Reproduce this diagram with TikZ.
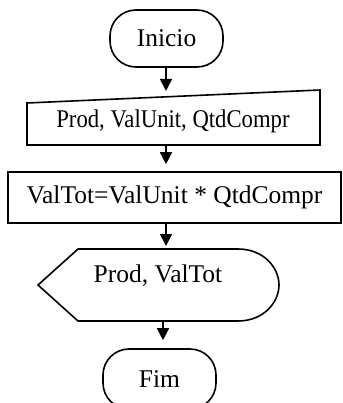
\documentclass[tikz,border=0pt]{standalone}
\usepackage{fontspec}
\setmainfont{Liberation Serif}
\usetikzlibrary{arrows.meta}
\begin{document}
\begin{tikzpicture}[x=1pt,y=-1pt,
  line width=1.6pt,
  every node/.style={font=\fontsize{25.5}{30}\selectfont, inner sep=0pt},
  term/.style={draw, rectangle, rounded corners=26pt, minimum width=113pt, minimum height=57pt},
  procbox/.style={draw, rectangle, minimum width=333pt, minimum height=51pt},
  arr/.style={-{Triangle[length=12pt,width=12pt]}, line width=1.5pt}]
\useasboundingbox (0,0) rectangle (342,403);

% start terminator
\node[term] (ini) at (166.5,38.5) {Inicio};

% manual input
\draw (27,103) -- (320,90) -- (320,145) -- (27,145) -- cycle;
\node (inp) at (173,121) {\scalebox{0.89}[1]{Prod, ValUnit, QtdCompr}};
\coordinate (inpT) at (166,91);
\coordinate (inpB) at (166,145);

% process
\node[procbox] (proc) at (174.5,197.5) {ValTot=ValUnit * QtdCompr};

% display
\draw (38,285) -- (78,249) -- (238,249)
  .. controls (264,249) and (279,268) .. (279,285)
  .. controls (279,302) and (264,321) .. (238,321)
  -- (78,321) -- cycle;
\node (disp) at (158,276) {Prod, ValTot};
\coordinate (dispT) at (166,246);
\coordinate (dispB) at (163,321);

% end terminator
\node[term, minimum height=60pt] (fim) at (159.5,379) {Fim};

% connectors
\draw[arr] (ini.south -| inpT) -- (inpT);
\draw[arr] (inpB) -- ([yshift=7pt]proc.north -| inpB);
\draw[arr] (proc.south -| dispT) -- (dispT);
\draw[arr] (dispB) -- ([yshift=8pt]fim.north -| dispB);
\end{tikzpicture}
\end{document}
